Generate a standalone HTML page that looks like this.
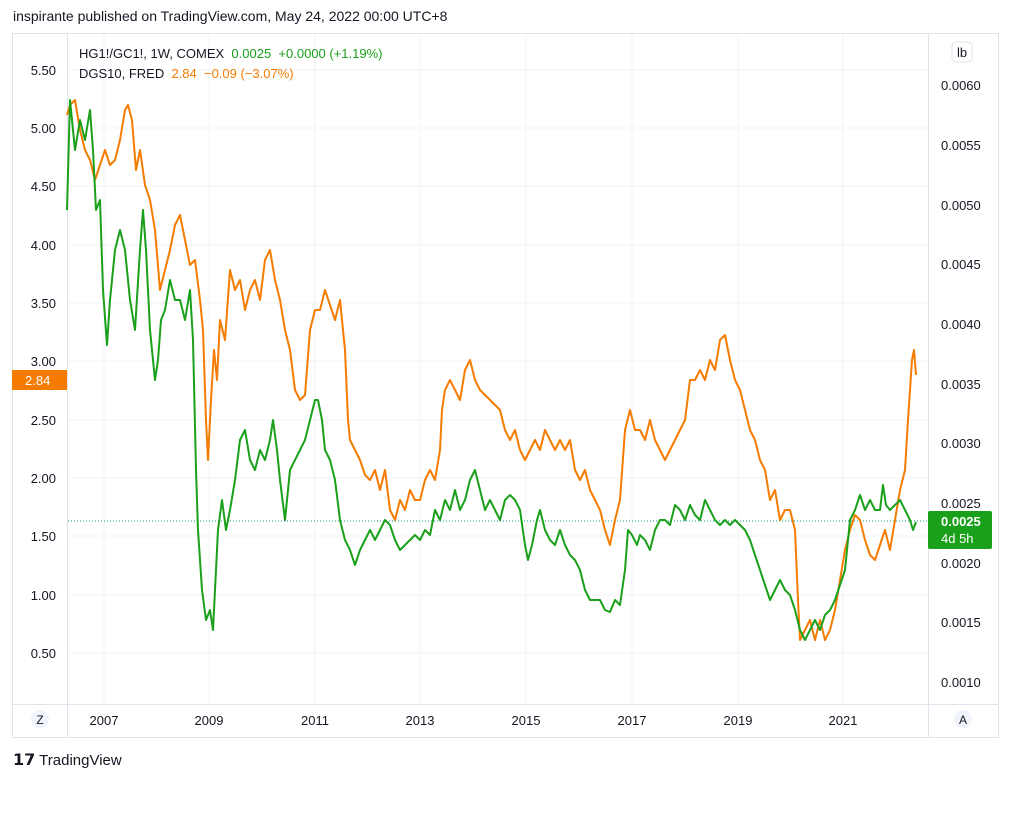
<!DOCTYPE html>
<html><head><meta charset="utf-8"><style>
body{margin:0;width:1011px;height:781px;background:#fff;font-family:"Liberation Sans",sans-serif;position:relative;overflow:hidden}
.t{position:absolute;font-size:13px;color:#131722}
</style></head><body>
<div class="t" style="left:13px;top:8px;font-size:14px">inspirante published on TradingView.com, May 24, 2022 00:00 UTC+8</div>
<svg width="1011" height="781" style="position:absolute;left:0;top:33px" viewBox="0 33 1011 781">
<rect x="12.5" y="33.5" width="986" height="704" fill="none" stroke="#e0e3eb"/>
<line x1="67.5" y1="33" x2="67.5" y2="737" stroke="#e0e3eb"/>
<line x1="928.5" y1="33" x2="928.5" y2="737" stroke="#e0e3eb"/>
<line x1="12" y1="704.5" x2="998" y2="704.5" stroke="#e0e3eb"/>
<g stroke="#f0f3fa">
<line x1="68" x2="928" y1="70" y2="70"/><line x1="68" x2="928" y1="128" y2="128"/><line x1="68" x2="928" y1="186" y2="186"/><line x1="68" x2="928" y1="245" y2="245"/><line x1="68" x2="928" y1="303" y2="303"/><line x1="68" x2="928" y1="361" y2="361"/><line x1="68" x2="928" y1="420" y2="420"/><line x1="68" x2="928" y1="478" y2="478"/><line x1="68" x2="928" y1="536" y2="536"/><line x1="68" x2="928" y1="595" y2="595"/><line x1="68" x2="928" y1="653" y2="653"/>
<line y1="34" y2="704" x1="104" x2="104"/><line y1="34" y2="704" x1="209" x2="209"/><line y1="34" y2="704" x1="315" x2="315"/><line y1="34" y2="704" x1="420" x2="420"/><line y1="34" y2="704" x1="526" x2="526"/><line y1="34" y2="704" x1="632" x2="632"/><line y1="34" y2="704" x1="738" x2="738"/><line y1="34" y2="704" x1="843" x2="843"/>
</g>
<line x1="68" x2="928" y1="521" y2="521" stroke="#089981" stroke-dasharray="1,2"/>
<polyline fill="none" stroke="#f57c00" stroke-width="2" stroke-linejoin="round" points="67,115 70,105 75,100 80,130 85,150 90,160 95,180 100,165 105,150 110,165 115,160 120,140 125,110 128,105 132,120 136,170 140,150 145,185 150,200 155,230 160,290 165,270 170,250 175,225 180,215 185,240 190,265 195,260 200,300 203,330 206,420 208,460 211,400 214,350 217,380 220,320 225,340 230,270 235,290 240,280 245,310 250,290 255,280 260,300 265,260 270,250 275,280 280,300 285,330 290,350 295,390 300,400 305,395 310,330 315,310 320,310 325,290 330,305 335,320 340,300 345,350 348,420 350,440 355,450 360,460 365,475 370,480 375,470 380,490 385,470 390,510 395,520 400,500 405,510 410,490 415,500 420,500 425,480 430,470 435,480 440,450 442,410 445,390 450,380 455,390 460,400 465,370 470,360 475,380 480,390 490,400 500,410 505,430 510,440 515,430 520,450 525,460 530,450 535,440 540,450 545,430 550,440 555,450 560,440 565,450 570,440 575,470 580,480 585,470 590,490 595,500 600,510 605,530 610,545 615,520 620,500 625,430 630,410 635,430 640,430 645,440 650,420 655,440 660,450 665,460 670,450 675,440 680,430 685,420 690,380 695,380 700,370 705,380 710,360 715,370 720,340 725,335 730,360 735,380 740,390 745,410 750,430 755,440 760,460 765,470 770,500 775,490 780,520 785,510 790,510 795,530 798,600 800,640 805,630 810,620 815,640 820,620 825,640 830,630 835,610 840,580 845,550 850,530 855,515 860,520 865,540 870,555 875,560 880,545 885,530 890,550 895,520 900,490 905,470 908,420 910,390 912,360 914,350 916,375"/>
<polyline fill="none" stroke="#1aa01a" stroke-width="2" stroke-linejoin="round" points="67,210 70,100 75,150 80,120 85,140 90,110 93,150 96,210 100,200 103,290 107,345 110,300 115,250 120,230 125,250 130,300 135,330 140,250 143,210 146,250 150,330 155,380 158,360 161,320 165,310 170,280 175,300 180,300 185,320 190,290 193,340 196,470 198,530 202,590 206,620 210,610 213,630 215,590 218,530 222,500 226,530 230,510 235,480 240,440 245,430 250,460 255,470 260,450 265,460 270,440 273,420 277,450 280,480 285,520 290,470 295,460 300,450 305,440 310,420 315,400 318,400 322,420 325,450 330,460 335,480 340,520 345,540 350,550 355,565 360,550 365,540 370,530 375,540 380,530 385,520 390,525 395,540 400,550 405,545 410,540 415,535 420,540 425,530 430,535 435,510 440,520 445,500 450,510 455,490 460,510 465,500 470,480 475,470 480,490 485,510 490,500 495,510 500,520 505,500 510,495 515,500 520,510 525,545 528,560 532,545 537,520 540,510 545,530 550,540 555,545 560,530 565,545 570,555 575,560 580,570 585,590 590,600 595,600 600,600 605,610 610,612 615,600 620,605 625,570 628,530 632,535 637,545 640,535 645,540 650,550 655,530 660,520 665,520 670,525 675,505 680,510 685,520 690,505 695,515 700,520 705,500 710,510 715,520 720,525 725,520 730,525 735,520 740,525 745,530 750,540 755,555 760,570 765,585 770,600 775,590 780,580 785,590 790,595 795,610 800,630 805,640 810,630 815,620 820,630 825,615 830,610 835,600 840,585 845,570 848,540 850,520 855,510 860,495 865,510 870,500 875,510 880,510 883,485 886,505 890,510 895,505 900,500 905,510 910,520 913,530 916,522"/>
<g font-family="Liberation Sans" font-size="13" fill="#131722" text-anchor="end">
<text x="56" y="75">5.50</text><text x="56" y="133">5.00</text><text x="56" y="191">4.50</text><text x="56" y="250">4.00</text><text x="56" y="308">3.50</text><text x="56" y="366">3.00</text><text x="56" y="425">2.50</text><text x="56" y="483">2.00</text><text x="56" y="541">1.50</text><text x="56" y="600">1.00</text><text x="56" y="658">0.50</text>
</g>
<g font-family="Liberation Sans" font-size="13" fill="#131722">
<text x="941" y="90">0.0060</text><text x="941" y="150">0.0055</text><text x="941" y="210">0.0050</text><text x="941" y="269">0.0045</text><text x="941" y="329">0.0040</text><text x="941" y="389">0.0035</text><text x="941" y="448">0.0030</text><text x="941" y="508">0.0025</text><text x="941" y="568">0.0020</text><text x="941" y="627">0.0015</text><text x="941" y="687">0.0010</text>
</g>
<g font-family="Liberation Sans" font-size="13" fill="#131722" text-anchor="middle">
<text x="104" y="725">2007</text><text x="209" y="725">2009</text><text x="315" y="725">2011</text><text x="420" y="725">2013</text><text x="526" y="725">2015</text><text x="632" y="725">2017</text><text x="738" y="725">2019</text><text x="843" y="725">2021</text>
</g>
<rect x="12" y="370" width="55" height="20" fill="#f57c00"/>
<text x="25" y="385" font-family="Liberation Sans" font-size="13" fill="#fff">2.84</text>
<rect x="928" y="511" width="64" height="38" rx="2" fill="#1aa01a"/>
<text x="941" y="526" font-family="Liberation Sans" font-size="13" font-weight="bold" fill="#fff">0.0025</text>
<text x="941" y="543" font-family="Liberation Sans" font-size="13" fill="#fff">4d 5h</text>
<circle cx="40" cy="719" r="9" fill="#f0f3fa"/><text x="40" y="724" font-family="Liberation Sans" font-size="12" text-anchor="middle" fill="#131722">Z</text>
<circle cx="963" cy="719" r="9" fill="#f0f3fa"/><text x="963" y="724" font-family="Liberation Sans" font-size="12" text-anchor="middle" fill="#131722">A</text>
<rect x="952" y="42" width="20" height="20" rx="4" fill="#fff" stroke="#e0e3eb"/><text x="962" y="57" font-family="Liberation Sans" font-size="13" text-anchor="middle" fill="#131722">lb</text>
</svg>
<div class="t" style="left:79px;top:46px">HG1!/GC1!, 1W, COMEX&nbsp; <span style="color:#1aa01a">0.0025&nbsp; +0.0000 (+1.19%)</span></div>
<div class="t" style="left:79px;top:66px">DGS10, FRED&nbsp; <span style="color:#f57c00">2.84&nbsp; −0.09 (−3.07%)</span></div>
<div class="t" style="left:13px;top:750px;font-size:15px"><b style="font-size:16px">𝟭𝟳</b> TradingView</div>
</body></html>
